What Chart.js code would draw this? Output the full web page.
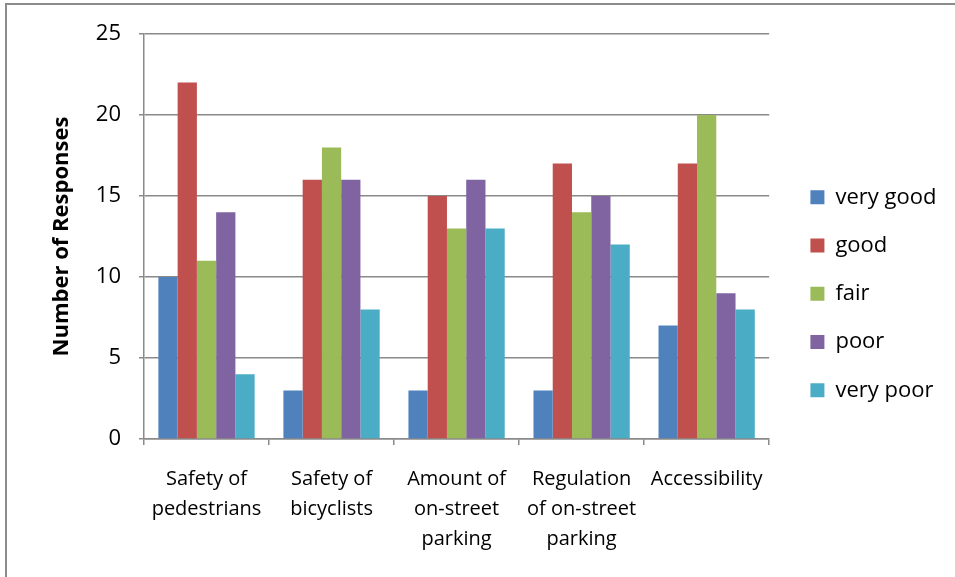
<!DOCTYPE html>
<html>
<head>
<meta charset="utf-8">
<script src="https://cdn.jsdelivr.net/npm/chart.js@4"></script>
<style>
  html, body { margin: 0; padding: 0; background: #fff; overflow: hidden; }
  #wrap { position: relative; width: 955px; height: 577px; }
  #frame { position: absolute; left: 5px; top: 3px; width: 1200px; height: 900px;
           border-left: 2px solid #8c8c8c; border-top: 2px solid #8c8c8c; pointer-events: none; }
  canvas { position: absolute; left: 0; top: 0; }
</style>
</head>
<body>
<div id="wrap">
  <canvas id="chart-area" width="955" height="577"></canvas>
  <div id="frame"></div>
</div>
<script>
const categories = [
  ['Safety of', 'pedestrians'],
  ['Safety of', 'bicyclists'],
  ['Amount of', 'on-street', 'parking'],
  ['Regulation', 'of on-street', 'parking'],
  ['Accessibility']
];
const veryGood = [10, 3, 3, 3, 7];
const good     = [22, 16, 15, 17, 17];
const fair     = [11, 18, 13, 14, 20];
const poor     = [14, 16, 16, 15, 9];
const veryPoor = [4, 8, 13, 12, 8];

const font = "'Open Sans', 'Noto Sans', sans-serif";
const gridColor = '#8a8a8a';

function ds(label, data, color) {
  return { label: label, data: data, backgroundColor: color, borderWidth: 0,
           categoryPercentage: 0.77, barPercentage: 1.0, yAxisID: 'y' };
}

Chart.defaults.font.family = font;
Chart.defaults.color = '#000';

const ctx = document.getElementById('chart-area').getContext('2d');
new Chart(ctx, {
  type: 'bar',
  data: {
    labels: categories,
    datasets: [
      ds('very good', veryGood, '#4F81BD'),
      ds('good', good, '#C0504D'),
      ds('fair', fair, '#9BBB59'),
      ds('poor', poor, '#8064A2'),
      ds('very poor', veryPoor, '#4BACC6')
    ]
  },
  options: {
    responsive: false,
    animation: false,
    layout: { padding: { top: 34, bottom: 0, left: 0, right: 14 } },
    plugins: {
      legend: {
        position: 'right',
        align: 'start',
        // blank title only pushes the list down to where the reference has it
        title: { display: true, text: ' ', font: { size: 10 }, padding: { top: 114, bottom: 0 } },
        labels: {
          boxWidth: 14, boxHeight: 14, padding: 26.25,
          font: { size: 22, family: font }, color: '#000'
        }
      },
      tooltip: { enabled: false }
    },
    scales: {
      x: {
        grid: { display: true, drawOnChartArea: false, color: gridColor, tickLength: 6, lineWidth: 1.5 },
        border: { display: true, color: gridColor, width: 1.5 },
        ticks: { font: { size: 20, family: font, lineHeight: 1.5 }, color: '#000', padding: 19, maxRotation: 0, autoSkip: false },
        afterFit: s => { s.height = 138; }
      },
      y: {
        min: 0, max: 25,
        ticks: { stepSize: 5, font: { size: 22, family: font }, color: '#000', padding: 18 },
        grid: { color: gridColor, tickLength: 5, lineWidth: 1.5 },
        border: { display: true, color: gridColor, width: 1.5 },
        title: { display: true, text: 'Number of Responses', font: { size: 22, weight: 'bold', family: font }, color: '#000', padding: { top: 49, bottom: 0 } },
        afterFit: s => { s.width = 144; }
      },
      gap: {
        position: 'right', display: true,
        grid: { display: false }, border: { display: false }, ticks: { display: false },
        afterFit: s => { s.width = 15; }
      }
    }
  }
});
</script>
</body>
</html>
